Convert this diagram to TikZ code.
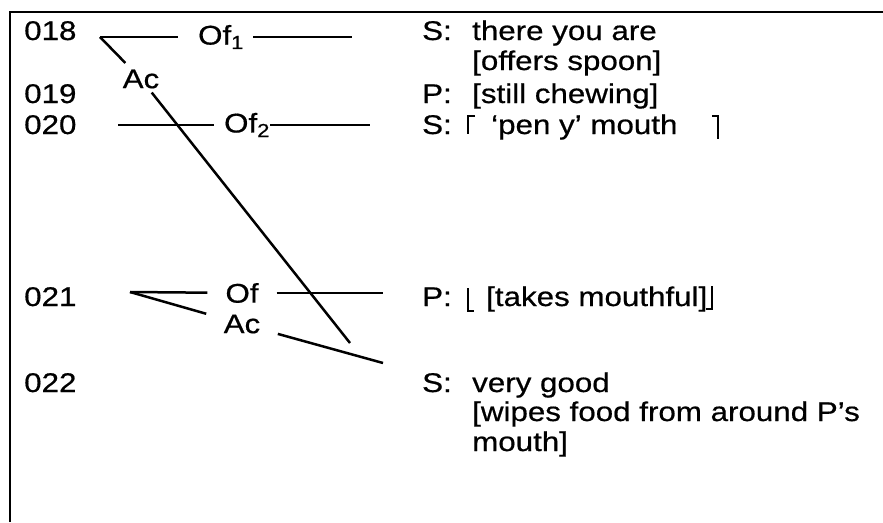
\documentclass[tikz,border=0pt]{standalone}
\usepackage{fontspec}
\setmainfont{Liberation Sans}[FakeStretch=1.16,FakeBold=0.6]
\usetikzlibrary{positioning}

\tikzset{
  txt/.style={anchor=base west, inner sep=0pt, font=\fontsize{27}{31}\selectfont},
  act/.style={inner sep=0pt, font=\fontsize{27}{31}\selectfont},
  link/.style={line width=2.5pt},
  brk/.style={line width=1.1pt},
}

\begin{document}
\begin{tikzpicture}[x=1pt,y=-1pt]
\useasboundingbox (0,0) rectangle (883,522);

% frame: only top and left edges
\draw[line width=2.5pt] (10,522) -- (10,12) -- (883,12);

% line numbers
\node[txt] (n018) at (24,40)  {018};
\node[txt] (n019) at (24,103) {019};
\node[txt] (n020) at (24,134) {020};
\node[txt] (n021) at (24,306) {021};
\node[txt] (n022) at (24,392) {022};

% transcript
\node[txt] (s018)  at (422,40)  {S:};
\node[txt] (t018)  at (472,40)  {there you are};
\node[txt] (t018b) at (472,70)  {[offers spoon]};
\node[txt] (s019)  at (422,103) {P:};
\node[txt] (t019)  at (472,103) {[still chewing]};
\node[txt] (s020)  at (422,134) {S:};
\node[txt] (t020)  at (491,134) {‘pen y’ mouth};
\node[txt] (s021)  at (422,306) {P:};
\node[txt] (t021)  at (486,306) {[takes mouthful]};
\node[txt] (s022)  at (422,392) {S:};
\node[txt] (t022)  at (472,392) {very good};
\node[txt] (t022b) at (472,421) {[wipes food from around P’s};
\node[txt] (t022c) at (472,451) {mouth]};

% overlap brackets
\draw[brk] (475,116) -- (468,116) -- (468,134);
\draw[brk] (712,116) -- (718,116) -- (718,139);
\draw[brk] (468,288) -- (468,311) -- (474,311);
\draw[brk] (712,286) -- (712,309) -- (706,309);

% acts
\node[act] (of1) at (221,37)  {Of\textsubscript{1}};
\node[act] (ac1) at (141,79)  {Ac};
\node[act] (of2) at (247,125) {Of\textsubscript{2}};
\node[act] (of3) at (242,293) {Of};
\node[act] (ac3) at (242,324) {Ac};

% free ends
\coordinate (a018) at (100,37);
\coordinate (e018) at (352,37);
\coordinate (a020) at (118,125);
\coordinate (e020) at (370,125);
\coordinate (a021) at (130,292);
\coordinate (e021) at (383,293);
\coordinate (e022) at (383,363);
\coordinate (eac1) at (350,343);

% connectors
\draw[link, shorten >=20pt] (a018) -- (of1);
\draw[link, shorten <=9pt] (of1) -- (e018);
\draw[link, shorten >=9pt] (a018) -- (ac1);
\draw[link, shorten <=5pt] (ac1) -- (eac1);
\draw[link, shorten >=10pt] (a020) -- (of2);
\draw[link] (of2) -- (e020);
\draw[link, shorten >=18pt] (a021) -- (of3);
\draw[link, shorten <=18pt] (of3) -- (e021);
\draw[link, shorten >=18pt] (a021) -- (ac3);
\draw[link, shorten <=18pt] (ac3) -- (e022);

\end{tikzpicture}
\end{document}
